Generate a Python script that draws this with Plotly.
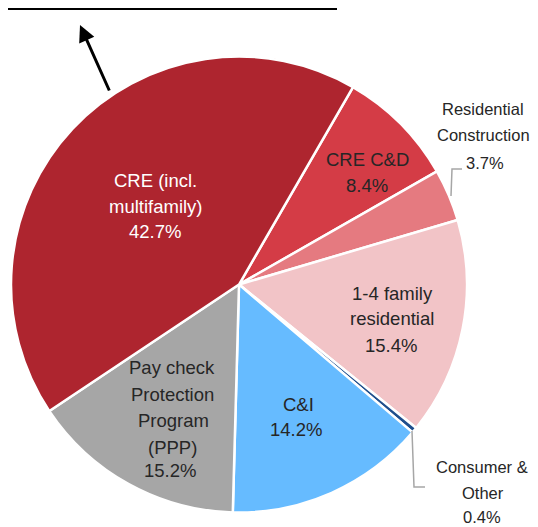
import plotly.graph_objects as go

# ---- data ----
categories = ["CRE C&D", "Residential Construction", "1-4 family residential",
              "Consumer & Other", "C&I", "Paycheck Protection Program (PPP)",
              "CRE (incl. multifamily)"]
shares = [8.4, 3.7, 15.4, 0.4, 14.2, 15.2, 42.7]
label_lines = [["CRE C&D", "8.4%"],
               ["Residential", "Construction", "3.7%"],
               ["1-4 family", "residential", "15.4%"],
               ["Consumer &", "Other", "0.4%"],
               ["C&I", "14.2%"],
               ["Pay check", "Protection", "Program", "(PPP)", "15.2%"],
               ["CRE (incl.", "multifamily)", "42.7%"]]
colors = ["#D43C46", "#E57A80", "#F2C4C7", "#1F4E8C", "#66BBFF", "#A6A6A6", "#AE252F"]
text_colors = ["#262626", "#262626", "#262626", "#262626", "#262626", "#262626", "#FFFFFF"]

# page has an 8px body margin: figure is offset by it
OFF = 8
W, H = 538 - OFF, 527 - OFF
def px(x):
    return (x - OFF) / W
def py(y):
    return 1 - (y - OFF) / H

# pie geometry (window pixels)
cx, cy, r = 239, 284.5, 228

fig = go.Figure(go.Pie(
    labels=categories, values=shares, sort=False, direction="clockwise",
    rotation=30, textinfo="none", hoverinfo="label+percent",
    marker=dict(colors=colors, line=dict(color="white", width=2.5)),
    domain=dict(x=[px(cx - r), px(cx + r)], y=[py(cy + r), py(cy - r)]),
    showlegend=False,
))

# label line positions (window pixels, centre of each text line)
line_pos = [
    [(367, 159.5), (367, 185)],
    [(483, 109), (483, 135), (485, 163.5)],
    [(392, 293), (392, 318), (391, 345.5)],
    [(482, 466.5), (483, 492.5), (482, 517)],
    [(298, 404), (296, 429.5)],
    [(172, 367), (172, 394), (173, 420.5), (172, 447), (170, 470.5)],
    [(155, 181), (156, 207), (155, 232)],
]
label_sizes = [18.5, 16.5, 18.5, 16.5, 18.5, 18.5, 18.5]

annotations = []
for lines, poss, c, s in zip(label_lines, line_pos, text_colors, label_sizes):
    for t, (x, y) in zip(lines, poss):
        annotations.append(dict(
            x=px(x), y=py(y), xref="paper", yref="paper", text=t, showarrow=False,
            xanchor="center", yanchor="middle", align="center",
            font=dict(family="Liberation Sans, Arial, sans-serif", size=s, color=c),
        ))

# arrow pointing to the box
annotations.append(dict(
    x=px(80), y=py(25), ax=30, ay=67, xref="paper", yref="paper",
    axref="pixel", ayref="pixel", text="", showarrow=True,
    arrowhead=2, arrowsize=1.1, arrowwidth=3, arrowcolor="black",
))

shapes = [
    dict(type="rect", xref="paper", yref="paper", x0=px(-5), x1=px(336),
         y0=py(9), y1=py(-20), line=dict(color="black", width=2),
         fillcolor="rgba(0,0,0,0)"),
    dict(type="path", xref="paper", yref="paper",
         path=f"M {px(451)} {py(196)} L {px(452)} {py(169)} L {px(462)} {py(169)}",
         line=dict(color="#A6A6A6", width=1.5)),
    dict(type="path", xref="paper", yref="paper",
         path=f"M {px(412)} {py(431)} L {px(414)} {py(487)} L {px(425)} {py(487)}",
         line=dict(color="#A6A6A6", width=1.5)),
]

fig.update_layout(
    width=W, height=H, margin=dict(l=0, r=0, t=0, b=0),
    paper_bgcolor="white", plot_bgcolor="white",
    annotations=annotations, shapes=shapes,
)

fig.write_html("out.html")
